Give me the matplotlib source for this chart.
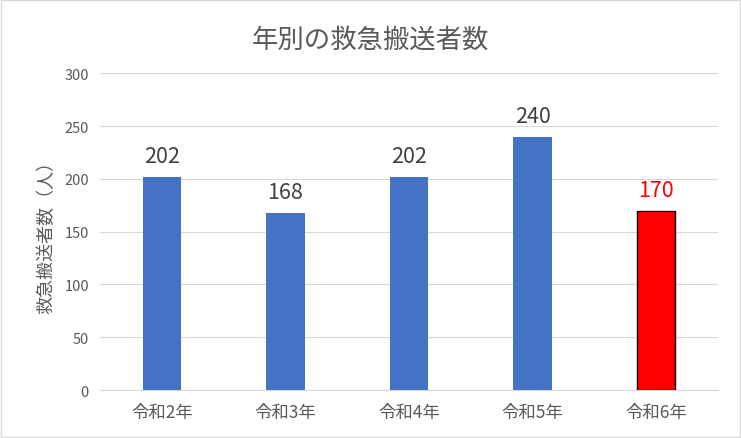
import matplotlib
matplotlib.use("Agg")
import matplotlib.pyplot as plt
from matplotlib.patches import Rectangle

plt.rcParams['font.family'] = ['Noto Sans CJK JP', 'DejaVu Sans']

years = ['令和2年', '令和3年', '令和4年', '令和5年', '令和6年']
counts = [202, 168, 202, 240, 170]
bar_colors = ['#4472C4', '#4472C4', '#4472C4', '#4472C4', '#FF0000']
label_colors = ['#404040', '#404040', '#404040', '#404040', '#FF0000']
y_ticks = [0, 50, 100, 150, 200, 250, 300]

fig = plt.figure(figsize=(7.41, 4.39), dpi=100)
ax = fig.add_axes([0.135, 0.109, 0.834, 0.722])

x = range(len(years))
bars = ax.bar(x, counts, width=0.31, color=bar_colors, zorder=3)
# last bar gets a black outline
bars[-1].set_edgecolor('black')
bars[-1].set_linewidth(1.0)

for i, (v, c) in enumerate(zip(counts, label_colors)):
    ax.text(i, v + 9, str(v), ha='center', va='bottom', fontsize=15.5, color=c)

ax.set_xlim(-0.5, len(years) - 0.5)
ax.set_ylim(0, 300)
ax.set_yticks(y_ticks)
ax.set_xticks(list(x))
ax.set_xticklabels(years)
ax.tick_params(axis='both', length=0, colors='#595959')
ax.tick_params(axis='y', labelsize=10.5, pad=8)
ax.tick_params(axis='x', labelsize=12.5, pad=9)
ax.grid(axis='y', color='#D9D9D9', linewidth=0.8, zorder=0)
for s in ['top', 'right', 'left']:
    ax.spines[s].set_visible(False)
ax.spines['bottom'].set_color('#D9D9D9')

ax.set_ylabel('救急搬送者数（人）', fontsize=13, color='#595959', labelpad=6)
fig.suptitle('年別の救急搬送者数', y=0.94, fontsize=19, color='#595959')

# outer chart border
fig.patches.append(Rectangle((0.002, 0.002), 0.996, 0.995, transform=fig.transFigure,
                             fill=False, edgecolor='#D9D9D9', linewidth=1))

fig.savefig('out.png', dpi=100)
